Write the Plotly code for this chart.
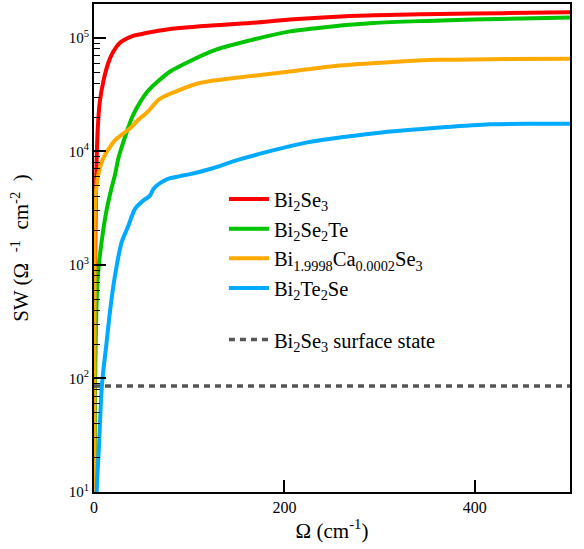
import plotly.graph_objects as go

# Data (Omega in cm^-1, SW in Ohm^-1 cm^-2)
red_x = [0.3, 0.8, 1.5, 2.2, 3, 4.5, 6, 10, 15, 20, 27, 34, 41, 50, 59, 75, 90, 120, 164, 210, 269, 320, 363, 430, 500]
red_y = [10, 300, 2000, 5000, 10000, 19000, 27000, 42000, 60000, 75000, 90000, 98000, 104000, 108000, 112000, 118000, 122000, 128000, 135000, 146000, 156000, 160000, 162000, 165000, 168000]

green_x = [0.5, 1.0, 1.5, 2.5, 4, 8, 13.4, 18, 22, 25.5, 30, 34.3, 40, 48.3, 56, 65.8, 80, 97.4, 128.9, 163.9, 206, 250, 293, 350, 398, 450, 500]
green_y = [10, 60, 150, 400, 800, 1600, 3100, 4600, 6200, 8600, 11500, 14700, 20000, 27000, 33500, 40400, 50500, 60400, 79000, 95000, 114000, 126000, 135000, 141000, 145000, 148000, 151000]

orange_x = [0.3, 0.5, 0.7, 1.0, 2.5, 4.5, 8, 11.5, 17, 22, 30, 38, 46, 55.6, 69, 87, 111, 135, 164, 210, 258, 310, 363, 430, 500]
orange_y = [10, 150, 800, 3000, 4800, 6200, 8000, 9300, 11000, 12500, 14200, 16000, 18800, 22000, 29000, 34000, 40000, 43000, 46000, 51000, 57000, 61000, 64000, 65000, 65500]

blue_x = [2.8, 3.5, 5, 8.4, 13, 17, 22, 29, 36, 43, 52, 56, 59, 62, 66, 77, 90, 101, 122, 153, 190, 224, 260, 293, 330, 363, 416, 460, 500]
blue_y = [10, 14, 23, 89, 200, 400, 800, 1580, 2200, 3100, 3700, 3900, 4100, 4600, 5000, 5700, 6050, 6300, 7000, 8500, 10300, 12000, 13300, 14400, 15400, 16200, 17300, 17500, 17500]

surface_x = [0, 500]
surface_y = [86, 86]

y_tickvals = [10, 100, 1000, 10000, 100000]
y_ticktext = ["10<sup>1</sup>", "10<sup>2</sup>", "10<sup>3</sup>", "10<sup>4</sup>", "10<sup>5</sup>"]
x_tickvals = [0, 200, 400]
x_ticktext = ["0", "200", "400"]

names = ["Bi<sub>2</sub>Se<sub>3</sub>",
         "Bi<sub>2</sub>Se<sub>2</sub>Te",
         "Bi<sub>1.9998</sub>Ca<sub>0.0002</sub>Se<sub>3</sub>",
         "Bi<sub>2</sub>Te<sub>2</sub>Se"]
colors = ["#ff0000", "#00c400", "#ffaa00", "#00aaff"]
series = [(red_x, red_y), (green_x, green_y), (orange_x, orange_y), (blue_x, blue_y)]

FONT = "Liberation Serif"
NB = "\u00a0"

fig = go.Figure()
for (xs, ys), nm, c in zip(series, names, colors):
    fig.add_trace(go.Scatter(x=xs, y=ys, mode="lines", name=nm, legendgroup="bulk",
                             line=dict(color=c, width=4, shape="spline", smoothing=0.8),
                             showlegend=True))

fig.add_trace(go.Scatter(x=surface_x, y=surface_y, mode="lines", legendgroup="surf",
                         name="Bi<sub>2</sub>Se<sub>3</sub> surface state",
                         line=dict(color="#555555", width=3.5, dash="6px,5px")))

fig.update_layout(
    width=584, height=549,
    margin=dict(l=94, r=14, t=2, b=57),
    paper_bgcolor="white", plot_bgcolor="white",
    font=dict(family=FONT, color="black", size=16),
    legend=dict(x=0.273, y=0.641, xanchor="left", yanchor="top",
                bgcolor="rgba(0,0,0,0)", font=dict(family=FONT, size=20.5),
                itemwidth=40, tracegroupgap=22),
    showlegend=True,
)

fig.update_xaxes(
    range=[0, 500], tickvals=x_tickvals, ticktext=x_ticktext,
    ticks="inside", ticklen=12, tickwidth=1.5, tickcolor="black",
    showline=True, linecolor="black", linewidth=2, mirror=True,
    showgrid=False, zeroline=False,
    tickfont=dict(family=FONT, size=16),
    title=dict(text="Ω (cm<sup>-1</sup>)", font=dict(family=FONT, size=21), standoff=8),
)

fig.update_yaxes(
    type="log", range=[1, 5.298], tickvals=y_tickvals, ticktext=y_ticktext,
    ticks="inside", ticklen=12, tickwidth=1.5, tickcolor="black",
    minor=dict(ticks="inside", ticklen=6, tickwidth=1, tickcolor="black", dtick="D1", showgrid=False),
    showline=True, linecolor="black", linewidth=2, mirror=True,
    showgrid=False, zeroline=False,
    tickfont=dict(family=FONT, size=15),
    title=dict(text="SW (Ω" + NB + NB + "<sup>-1</sup>" + NB + NB + "cm<sup>-2</sup>" + NB + NB + ")",
               font=dict(family=FONT, size=21), standoff=34),
)

fig.write_html("out.html")
